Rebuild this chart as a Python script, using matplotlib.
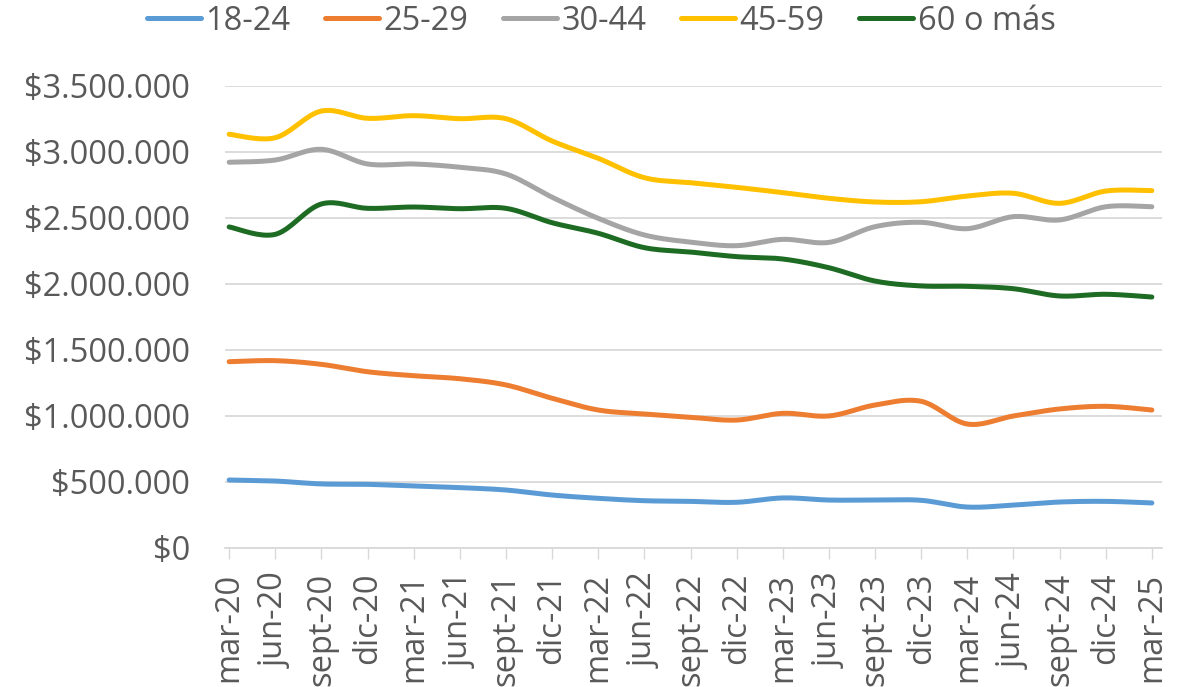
import numpy as np
import matplotlib
matplotlib.use("Agg")
import matplotlib.pyplot as plt
from matplotlib.ticker import FuncFormatter

# ==============================================================
#  Data (quarterly, mar-20 .. mar-25)
# ==============================================================
quarters = ["mar-20", "jun-20", "sept-20", "dic-20",
            "mar-21", "jun-21", "sept-21", "dic-21",
            "mar-22", "jun-22", "sept-22", "dic-22",
            "mar-23", "jun-23", "sept-23", "dic-23",
            "mar-24", "jun-24", "sept-24", "dic-24",
            "mar-25"]

age_18_24 = [513000, 505000, 483000, 480000, 467000, 455000, 437000, 399000,
             374000, 356000, 351000, 344000, 377000, 361000, 361000, 359000,
             308000, 323000, 346000, 351000, 339000]
age_25_29 = [1409000, 1417000, 1389000, 1333000, 1303000, 1280000, 1233000, 1132000,
             1043000, 1013000, 988000, 967000, 1018000, 998000, 1081000, 1109000,
             937000, 998000, 1051000, 1071000, 1043000]
age_30_44 = [2920000, 2937000, 3018000, 2907000, 2907000, 2882000, 2831000, 2655000,
             2495000, 2369000, 2315000, 2288000, 2336000, 2313000, 2432000, 2465000,
             2417000, 2508000, 2483000, 2583000, 2583000]
age_45_59 = [3132000, 3106000, 3308000, 3253000, 3273000, 3250000, 3250000, 3081000,
             2950000, 2803000, 2765000, 2730000, 2690000, 2647000, 2619000, 2621000,
             2664000, 2685000, 2609000, 2702000, 2705000]
age_60_plus = [2430000, 2374000, 2604000, 2571000, 2581000, 2568000, 2571000, 2462000,
               2382000, 2273000, 2240000, 2205000, 2187000, 2121000, 2020000, 1983000,
               1980000, 1962000, 1907000, 1920000, 1899000]

series = [
    ("18-24", age_18_24, "#5B9BD5"),
    ("25-29", age_25_29, "#ED7D31"),
    ("30-44", age_30_44, "#A5A5A5"),
    ("45-59", age_45_59, "#FFC000"),
    ("60 o más", age_60_plus, "#1E6B24"),
]

TEXT = "#595959"
GRID = "#D9D9D9"


def smooth(x, y, n=20):
    """Excel-like smoothed line: cubic Bezier through the points."""
    x = np.asarray(x, float)
    y = np.asarray(y, float)
    px = np.concatenate([[x[0]], x, [x[-1]]])
    py = np.concatenate([[y[0]], y, [y[-1]]])
    t = np.linspace(0, 1, n)[:, None]
    xs, ys = [], []
    for i in range(1, len(px) - 2):
        p0 = np.array([px[i], py[i]])
        p3 = np.array([px[i + 1], py[i + 1]])
        c1 = p0 + (np.array([px[i + 1], py[i + 1]]) - np.array([px[i - 1], py[i - 1]])) / 6
        c2 = p3 - (np.array([px[i + 2], py[i + 2]]) - np.array([px[i], py[i]])) / 6
        b = ((1 - t) ** 3) * p0 + 3 * ((1 - t) ** 2) * t * c1 + 3 * (1 - t) * t ** 2 * c2 + t ** 3 * p3
        xs.append(b[:, 0])
        ys.append(b[:, 1])
    return np.concatenate(xs), np.concatenate(ys)


plt.rcParams["font.family"] = ["Open Sans", "DejaVu Sans"]

fig = plt.figure(figsize=(11.81, 6.87), dpi=100)
ax = fig.add_axes([225 / 1181, 139.3 / 687, 937 / 1181, 462 / 687])

x = np.arange(len(quarters))
for name, vals, col in series:
    sx, sy = smooth(x, vals)
    ax.plot(sx, sy, color=col, lw=3.6, solid_capstyle="round", label=name)

ax.set_ylim(0, 3500000)
ax.set_yticks(np.arange(0, 3500001, 500000))
ax.yaxis.set_major_formatter(FuncFormatter(lambda v, p: "$" + f"{int(v):,}".replace(",", ".")))
ax.set_xlim(-0.09, 20.22)
ax.set_xticks(x)
ax.set_xticklabels(quarters, rotation=90)

ax.grid(axis="y", color=GRID, lw=1.3)
ax.set_axisbelow(True)
for s in ("top", "right", "left"):
    ax.spines[s].set_visible(False)
ax.spines["bottom"].set_color(GRID)
ax.spines["bottom"].set_linewidth(1.3)

ax.tick_params(axis="y", length=0, pad=25, labelsize=23.5, labelcolor=TEXT)
ax.tick_params(axis="x", length=8, width=1.0, color=GRID, pad=10,
               labelsize=23.5, labelcolor=TEXT)

leg = fig.legend(loc="center", bbox_to_anchor=(0.509, 1 - 21 / 687), ncol=5,
                 frameon=False, fontsize=23.5, handlelength=1.65,
                 handletextpad=0.15, columnspacing=1.05, borderaxespad=0)
for t in leg.get_texts():
    t.set_color(TEXT)

fig.savefig("out.png", dpi=100)
